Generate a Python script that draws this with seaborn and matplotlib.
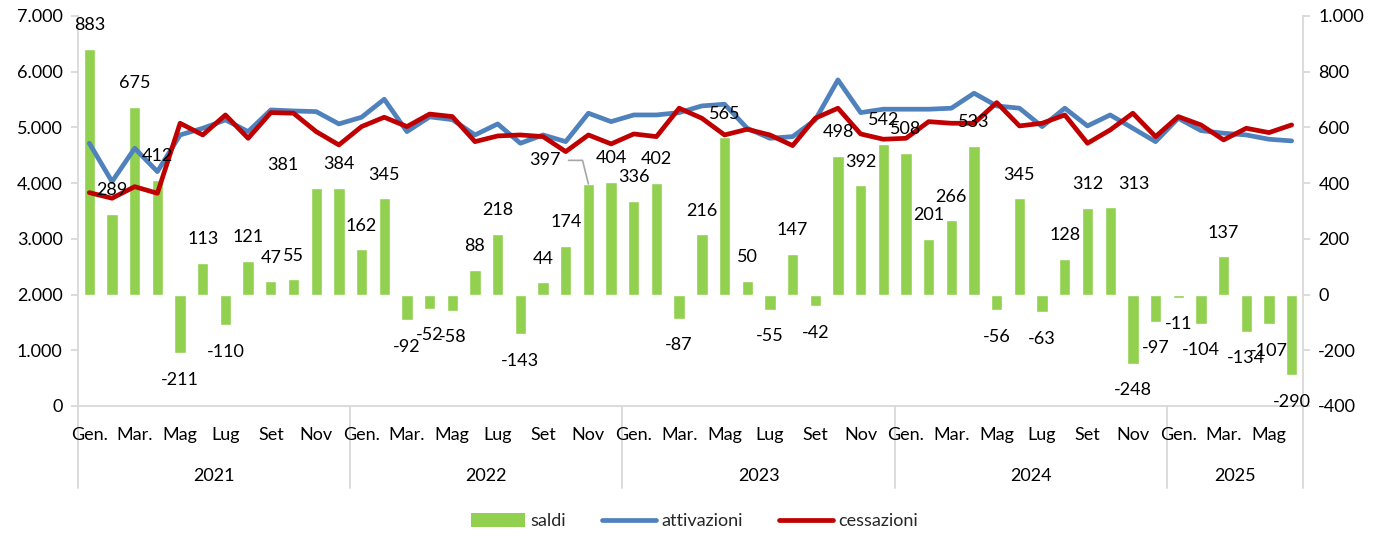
import matplotlib
matplotlib.use("Agg")
import matplotlib.pyplot as plt
import matplotlib.transforms as mtransforms
from matplotlib.patches import Patch
from matplotlib.lines import Line2D
from matplotlib.ticker import FuncFormatter
import seaborn as sns
import pandas as pd

sns.set_style("white")
plt.rcParams['font.family'] = ['Lato', 'DejaVu Sans']

# ---------------- data ----------------
years = ["2021", "2022", "2023", "2024", "2025"]
months_per_year = [12, 12, 12, 12, 6]
month_labels = ["Gen.", "", "Mar.", "", "Mag", "", "Lug", "", "Set", "", "Nov", ""]

saldi = [883, 289, 675, 412, -211, 113, -110, 121, 47, 55, 381, 384,
         162, 345, -92, -52, -58, 88, 218, -143, 44, 174, 397, 404,
         336, 402, -87, 216, 565, 50, -55, 147, -42, 498, 392, 542,
         508, 201, 266, 533, -56, 345, -63, 128, 312, 313, -248, -97,
         -11, -104, 137, -134, -107, -290]

attivazioni = [4716, 4027, 4626, 4207, 4865, 4985, 5135, 4925, 5314, 5296, 5284, 5063,
               5183, 5506, 4925, 5190, 5140, 4865, 5063, 4716, 4865, 4745, 5255, 5104,
               5224, 5224, 5266, 5386, 5416, 4985, 4805, 4835, 5135, 5853, 5266, 5327,
               5327, 5327, 5345, 5614, 5386, 5345, 5015, 5345, 5027, 5224, 4985, 4745,
               5165, 4943, 4896, 4865, 4788, 4758]

cessazioni = [3830, 3729, 3937, 3818, 5075, 4865, 5224, 4805, 5266, 5255, 4925, 4686,
              5015, 5183, 5015, 5240, 5195, 4745, 4847, 4865, 4835, 4566, 4865, 4704,
              4883, 4835, 5345, 5165, 4865, 4967, 4865, 4674, 5165, 5345, 4883, 4788,
              4805, 5104, 5075, 5075, 5445, 5027, 5075, 5224, 4716, 4955, 5255, 4835,
              5194, 5045, 4776, 4985, 4907, 5045]

n = len(saldi)
idx = list(range(n))
df = pd.DataFrame({"i": idx, "saldi": saldi,
                   "attivazioni": attivazioni, "cessazioni": cessazioni})

GREEN = "#92D050"
BLUE = "#4F81BD"
RED = "#C00000"
GRAY = "#D9D9D9"
FS = 13

fig = plt.figure(figsize=(13.89, 5.37), dpi=100)
ax = fig.add_axes([78 / 1389, 1 - 406 / 537, (1303 - 78) / 1389, 390 / 537])
ax2 = ax.twinx()

# bars on the right axis
sns.barplot(data=df, x="i", y="saldi", ax=ax2, color=GREEN, saturation=1,
            width=0.5, native_scale=True, errorbar=None)
# lines on the left axis
sns.lineplot(data=df, x="i", y="attivazioni", ax=ax, color=BLUE, lw=3.4,
             solid_capstyle="round", solid_joinstyle="round")
sns.lineplot(data=df, x="i", y="cessazioni", ax=ax, color=RED, lw=3.4,
             solid_capstyle="round", solid_joinstyle="round")

ax.set_zorder(ax2.get_zorder() + 1)
ax.patch.set_visible(False)

ax.set_xlim(-0.5, n - 0.5)
ax2.set_xlim(-0.5, n - 0.5)
ax.set_ylim(0, 7000)
ax2.set_ylim(-400, 1000)
ax.set_yticks(range(0, 7001, 1000))
ax2.set_yticks(range(-400, 1001, 200))

fmt = FuncFormatter(lambda v, p: f"{int(v):,}".replace(",", "."))
ax.yaxis.set_major_formatter(fmt)
ax2.yaxis.set_major_formatter(fmt)

for a in (ax, ax2):
    a.set_xlabel("")
    a.set_ylabel("")
    for s in a.spines.values():
        s.set_color(GRAY)
        s.set_linewidth(1.3)
    a.spines["top"].set_visible(False)
    a.tick_params(axis="y", labelsize=FS, length=5, width=1.3, color=GRAY,
                  direction="out", pad=6, labelcolor="black")
ax.spines["right"].set_visible(False)
ax2.spines["left"].set_visible(False)
ax.spines["bottom"].set_visible(False)
ax2.spines["bottom"].set_position(("data", -400))

# category axis: ticks between months
bounds = [b - 0.5 for b in range(n + 1)]
ax2.set_xticks([])
ax.set_xticks(bounds)
ax.tick_params(axis="x", length=30, width=1.3, color=GRAY, direction="out",
               labelbottom=False)

trans = mtransforms.blended_transform_factory(ax.transData, ax.transAxes)
h_px = 390.0
# month labels
for i in idx:
    lab = month_labels[i % 12]
    if lab:
        ax.text(i, -29 / h_px, lab, transform=trans, ha="center", va="center",
                fontsize=FS, color="black")
# year labels and separators
start = 0
for y, m in zip(years, months_per_year):
    ax.text(start + (m - 1) / 2, -70 / h_px, y, transform=trans, ha="center",
            va="center", fontsize=FS, color="black")
    ax.plot([start - 0.5, start - 0.5], [0, -82 / h_px], transform=trans,
            color=GRAY, lw=1.3, clip_on=False)
    start += m
ax.plot([start - 0.5, start - 0.5], [0, -82 / h_px], transform=trans,
        color=GRAY, lw=1.3, clip_on=False)

# data labels (a few are shifted sideways, as in the reference)
x_shift = {10: -24, 45: 17}
for i, v in zip(idx, saldi):
    if i == 22:
        ax.annotate(f"{v}", xy=(i, v), xycoords=ax2.transData,
                    xytext=(-31, 17), textcoords="offset points",
                    ha="center", va="center", fontsize=FS, color="black",
                    arrowprops=dict(arrowstyle="-", color="#A6A6A6", lw=1.2,
                                    relpos=(1, 0.5), shrinkA=3, shrinkB=0,
                                    connectionstyle="angle,angleA=0,angleB=104,rad=0"))
        continue
    off = 17 if v >= 0 else -19
    ax.annotate(f"{v}", xy=(i, v), xycoords=ax2.transData,
                xytext=(x_shift.get(i, 0), off), textcoords="offset points",
                ha="center", va="center", fontsize=FS, color="black",
                annotation_clip=False)

handles = [Patch(facecolor=GREEN, edgecolor="none", label="saldi"),
           Line2D([0], [0], color=BLUE, lw=3.4, solid_capstyle="round", label="attivazioni"),
           Line2D([0], [0], color=RED, lw=3.4, solid_capstyle="round", label="cessazioni")]
fig.legend(handles=handles, loc="center", bbox_to_anchor=(0.5, 1 - 521 / 537),
           ncol=3, frameon=False, fontsize=FS, handlelength=3.0, handleheight=0.8,
           handletextpad=0.3, columnspacing=2.0)

fig.savefig("out.png", dpi=100)
